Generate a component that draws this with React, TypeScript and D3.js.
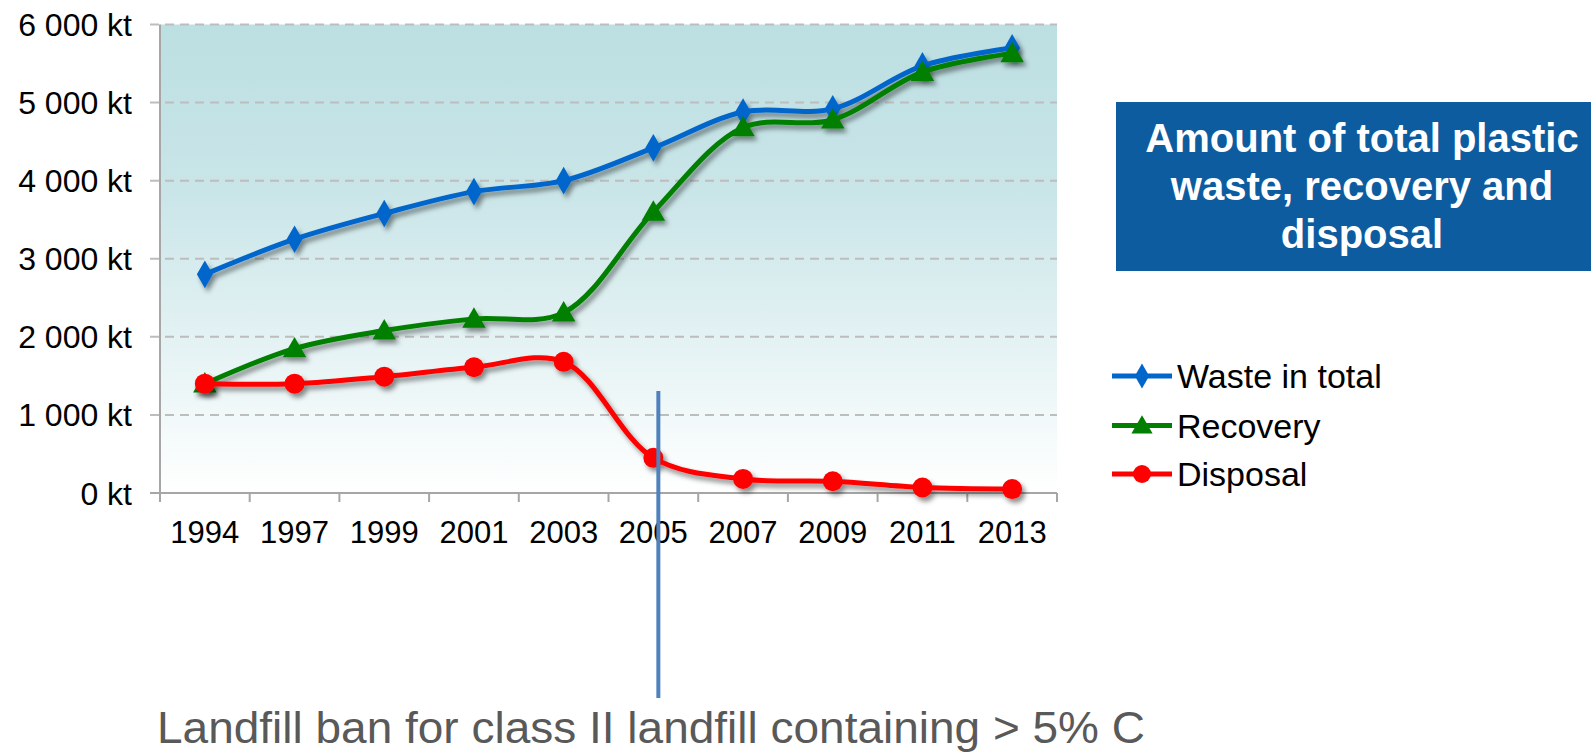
import React from "react";
import * as d3 from "d3";

const years = ["1994", "1997", "1999", "2001", "2003", "2005", "2007", "2009", "2011", "2013"];
const wasteTotal = [2800, 3250, 3580, 3860, 4000, 4420, 4880, 4920, 5470, 5700];
const recovery = [1400, 1850, 2080, 2230, 2310, 3600, 4680, 4780, 5390, 5630];
const disposal = [1400, 1400, 1490, 1610, 1680, 450, 180, 150, 70, 50];
const yTicks = [0, 1000, 2000, 3000, 4000, 5000, 6000];
const seriesNames = ["Waste in total", "Recovery", "Disposal"];
const titleLines = ["Amount of total plastic", "waste, recovery and", "disposal"];
const annotation = "Landfill ban for class II landfill containing > 5% C";
const annotationYear = "2005";

const W = 1591, H = 753;
const plot = { left: 160, right: 1057, top: 24.5, bottom: 493 };
const FONT = "Liberation Sans, Arial, sans-serif";

export default function App() {
  const x = d3.scaleBand<string>().domain(years).range([plot.left, plot.right]).padding(0);
  const y = d3.scaleLinear().domain([0, 6000]).range([plot.bottom, plot.top]);
  const cx = (yr: string) => (x(yr) as number) + x.bandwidth() / 2;

  const line = d3
    .line<number>()
    .x((_, i) => cx(years[i]))
    .y((v) => y(v))
    .curve(d3.curveCatmullRom.alpha(0.5));

  const series = [
    { name: seriesNames[0], data: wasteTotal, color: "#0066cc", marker: "diamond" },
    { name: seriesNames[1], data: recovery, color: "#007f00", marker: "triangle" },
    { name: seriesNames[2], data: disposal, color: "#ff0000", marker: "circle" },
  ];

  const diamond = d3.symbol(d3.symbolDiamond, 220)();
  const triangle = d3.symbol(d3.symbolTriangle, 240)();

  const marker = (type: string, color: string, px: number, py: number, key: any, scale = 1) => {
    if (type === "circle")
      return <circle key={key} cx={px} cy={py} r={10 * scale} fill={color} />;
    const p = type === "diamond" ? diamond : triangle;
    return (
      <path
        key={key}
        d={p as string}
        transform={`translate(${px},${py + (type === "triangle" ? 2 : 0)}) scale(${scale})`}
        fill={color}
      />
    );
  };

  const legendY = [376, 425.5, 474];

  return (
    <svg width={W} height={H} style={{ position: "absolute", left: 0, top: 0 }} fontFamily={FONT}>
      <defs>
        <linearGradient id="bg" x1="0" y1="0" x2="0" y2="1">
          <stop offset="0" stopColor="#bcdfe2" />
          <stop offset="0.35" stopColor="#c9e5e8" />
          <stop offset="0.7" stopColor="#e6f3f4" />
          <stop offset="1" stopColor="#ffffff" />
        </linearGradient>
        <filter id="shadow" x="-5%" y="-10%" width="115%" height="130%">
          <feDropShadow dx="3" dy="4" stdDeviation="2.5" floodColor="#000" floodOpacity="0.45" />
        </filter>
      </defs>
      <rect x={0} y={0} width={W} height={H} fill="#fff" />
      <rect x={plot.left} y={plot.top} width={plot.right - plot.left} height={plot.bottom - plot.top} fill="url(#bg)" />

      {/* gridlines */}
      {yTicks.filter((t) => t > 0).map((t) => (
        <line key={t} x1={150} x2={plot.right} y1={y(t)} y2={y(t)} stroke="#bdbdbd" strokeWidth={2} strokeDasharray="9,6" />
      ))}
      {/* axes */}
      <line x1={plot.left} x2={plot.left} y1={plot.top} y2={plot.bottom} stroke="#a6a6a6" strokeWidth={2} />
      <line x1={150} x2={plot.right} y1={plot.bottom} y2={plot.bottom} stroke="#a6a6a6" strokeWidth={2} />
      {years.map((yr) => (
        <line key={yr} x1={x(yr)} x2={x(yr)} y1={plot.bottom} y2={plot.bottom + 9} stroke="#a6a6a6" strokeWidth={2} />
      ))}
      <line x1={plot.right} x2={plot.right} y1={plot.bottom} y2={plot.bottom + 9} stroke="#a6a6a6" strokeWidth={2} />

      {yTicks.map((t) => (
        <text key={t} x={132} y={y(t)} dy="0.36em" textAnchor="end" fontSize={32} fill="#000">
          {d3.format(",")(t).replace(/,/g, " ") + " kt"}
        </text>
      ))}
      {years.map((yr) => (
        <text key={yr} x={cx(yr)} y={543} textAnchor="middle" fontSize={31} fill="#000">
          {yr}
        </text>
      ))}

      {/* series */}
      {series.map((s) => (
        <g key={s.name} filter="url(#shadow)">
          <path d={line(s.data) as string} fill="none" stroke={s.color} strokeWidth={5} />
          {s.data.map((v, i) => marker(s.marker, s.color, cx(years[i]), y(v), i))}
        </g>
      ))}

      {/* annotation */}
      <line x1={x(annotationYear)! + x.bandwidth() / 2 + 5} x2={x(annotationYear)! + x.bandwidth() / 2 + 5} y1={391} y2={698} stroke="#4f81bd" strokeWidth={4} />
      <text x={157} y={743} fontSize={45} fill="#595959" textLength={988} lengthAdjust="spacingAndGlyphs">
        {annotation}
      </text>

      {/* title box */}
      <rect x={1116} y={102} width={W - 1116} height={169} fill="#0d5ca0" />
      {titleLines.map((t, i) => (
        <text key={t} x={1362} y={152 + i * 48} textAnchor="middle" fontSize={40} fontWeight="bold" fill="#fff">
          {t}
        </text>
      ))}

      {/* legend */}
      {series.map((s, i) => (
        <g key={s.name}>
          <line x1={1112} x2={1172} y1={legendY[i]} y2={legendY[i]} stroke={s.color} strokeWidth={5} />
          {marker(s.marker, s.color, 1142, legendY[i], "m", 0.9)}
          <text x={1177} y={legendY[i]} dy="0.36em" fontSize={34} fill="#000">
            {s.name}
          </text>
        </g>
      ))}
    </svg>
  );
}
